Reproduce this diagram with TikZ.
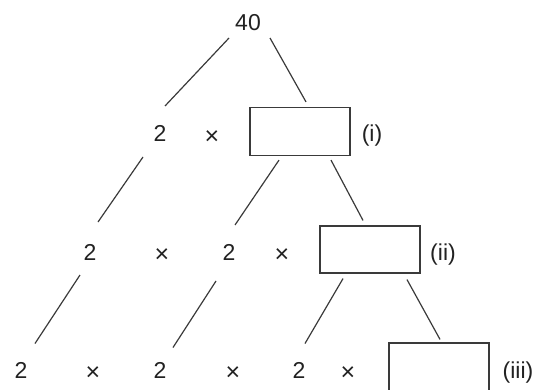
\documentclass[tikz,border=0pt]{standalone}
\usepackage{fontspec}
\setmainfont{Liberation Sans}
\definecolor{ink}{HTML}{222222}
\definecolor{edge}{HTML}{3A3A3A}
\begin{document}
\begin{tikzpicture}[x=1pt,y=-1pt,
  lbl/.style={inner sep=0pt, text height=16pt, text depth=0pt, font=\fontsize{23}{27}\selectfont, text=ink},
  times/.style={lbl, font=\fontsize{25}{27}\selectfont},
  blank/.style={draw=edge, line width=1.2pt, minimum width=100pt, minimum height=48pt, inner sep=0pt},
  conn/.style={draw=edge, line width=1.2pt}]
\useasboundingbox (0,0) rectangle (545,390);
% top
\node[lbl] (n40) at (248,23) {40};
% row 1
\node[lbl] (a1) at (160,134) {2};
\node[times] (x1) at (212,136) {×};
\node[blank] (b1) at (300,131.5) {};
\node[lbl] (l1) at (372,134) {(i)};
% row 2
\node[lbl] (a2) at (90,252) {2};
\node[times] (x2a) at (162,254) {×};
\node[lbl] (c2) at (229,252) {2};
\node[times] (x2b) at (282,254) {×};
\node[blank, minimum height=47pt] (b2) at (370,249.5) {};
\node[lbl] (l2) at (443,252) {(ii)};
% row 3
\node[lbl] (a3) at (21,370.5) {2};
\node[times] (x3a) at (93,372.5) {×};
\node[lbl] (c3) at (160,370.5) {2};
\node[times] (x3b) at (233,372.5) {×};
\node[lbl] (e3) at (299,370.5) {2};
\node[times] (x3c) at (348,372.5) {×};
\node[blank, minimum height=49pt] (b3) at (439,367.5) {};
\node[lbl] (l3) at (518,370.5) {(iii)};
% connectors
\draw[conn] ([shift={(-19,15)}]n40.center) -- ([shift={(5,-28)}]a1.center);
\draw[conn] ([shift={(22,15)}]n40.center) -- ([shift={(6,-5)}]b1.north);
\draw[conn] ([shift={(-17,23)}]a1.center) -- ([shift={(8,-30)}]a2.center);
\draw[conn] ([shift={(-21,4)}]b1.south) -- ([shift={(6,-27)}]c2.center);
\draw[conn] ([shift={(31,4)}]b1.south) -- ([shift={(-7,-5)}]b2.north);
\draw[conn] ([shift={(-10,23)}]a2.center) -- ([shift={(14,-27)}]a3.center);
\draw[conn] ([shift={(-13,29)}]c2.center) -- ([shift={(13,-23)}]c3.center);
\draw[conn] ([shift={(-27,5)}]b2.south) -- ([shift={(6,-27)}]e3.center);
\draw[conn] ([shift={(37,6)}]b2.south) -- ([shift={(1,-3)}]b3.north);
\end{tikzpicture}
\end{document}
